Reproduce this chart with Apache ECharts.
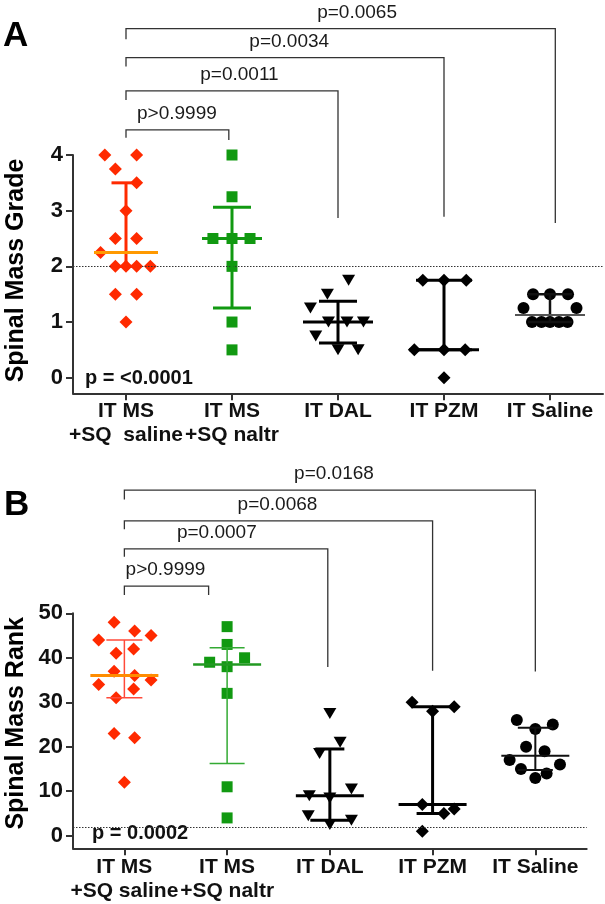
<!DOCTYPE html>
<html>
<head>
<meta charset="utf-8">
<script src="https://cdn.jsdelivr.net/npm/echarts@6/dist/echarts.min.js"></script>
<style>html,body{margin:0;padding:0;background:#fff;}#c{width:605px;height:904px;}</style>
</head>
<body>
<div id="c"></div>
<script>
// ---------------- Panel A: Spinal Mass Grade ----------------
const categoriesA = ['IT MS\n+SQ  saline', 'IT MS\n+SQ naltr', 'IT DAL', 'IT PZM', 'IT Saline'];
const gradeTicks = [0, 1, 2, 3, 4];
const gradeThreshold = 2;
const gradeMsSaline = [4, 4, 3.75, 3.5, 3, 2.5, 2.5, 2.25, 2, 2, 2, 2, 1.5, 1.5, 1];
const gradeMsSalineJitter = [-0.2, 0.1, -0.1, 0.1, 0, -0.1, 0.1, -0.24, -0.1, 0, 0.1, 0.23, -0.1, 0.1, 0];
const gradeMsNaltr = [4, 3.25, 2.5, 2.5, 2.5, 2, 1, 0.5];
const gradeMsNaltrJitter = [0, 0, -0.18, 0, 0.17, 0, 0, 0];
const gradeDal = [1.75, 1.5, 1.25, 1, 1, 1, 0.75, 0.5, 0.5];
const gradeDalJitter = [0.1, -0.1, -0.26, -0.09, 0.085, 0.24, -0.21, 0, 0.19];
const gradePzm = [1.75, 1.75, 1.75, 0.5, 0.5, 0.5, 0];
const gradePzmJitter = [-0.2, 0, 0.21, -0.28, 0, 0.2, 0];
const gradeItSaline = [1.5, 1.5, 1.5, 1.25, 1.25, 1, 1, 1, 1, 1];
const gradeItSalineJitter = [-0.16, 0, 0.17, -0.25, 0.25, -0.17, -0.08, 0, 0.085, 0.165];
const gradeMedian = [2.25, 2.5, 1.0, 0.5, 1.125];
const gradeQ1 = [2.0, 1.25, 0.625, 0.5, 1.0];
const gradeQ3 = [3.5, 3.0625, 1.375, 1.75, 1.5];
const gradeBracketLabels = ['p>0.9999', 'p=0.0011', 'p=0.0034', 'p=0.0065'];
const gradeBracketFrom = [0, 0, 0, 0];
const gradeBracketTo = [0.97, 2, 3, 4.05];
const gradeBracketTop = [4.45, 5.15, 5.75, 6.27];
const gradeBracketLeftEnd = [4.31, 4.99, 5.59, 6.08];
const gradeBracketRightEnd = [4.27, 2.87, 2.89, 2.78];
const gradeBracketLabelX = [0.48, 1.07, 1.54, 2.18];
const gradeOverallP = 'p = <0.0001';

// ---------------- Panel B: Spinal Mass Rank ----------------
const categoriesB = ['IT MS\n+SQ saline', 'IT MS\n+SQ naltr', 'IT DAL', 'IT PZM', 'IT Saline'];
const rankTicks = [0, 10, 20, 30, 40, 50];
const rankThreshold = 2;
const rankMsSaline = [48, 46, 45, 44, 41, 42, 37, 36, 34, 35, 33, 31, 23, 22, 12];
const rankMsSalineJitter = [-0.1, 0.1, 0.26, -0.25, -0.08, 0.09, -0.1, 0.1, -0.25, 0.26, 0.09, -0.08, -0.1, 0.1, 0];
const rankMsNaltr = [47, 43, 39, 40, 38, 32, 11, 4];
const rankMsNaltrJitter = [0, 0, -0.17, 0.17, 0, 0, 0, 0];
const rankDal = [27.5, 21, 18.5, 9, 8.5, 10.5, 4.5, 2.5, 3.5];
const rankDalJitter = [0, 0.1, -0.1, -0.2, 0, 0.21, -0.21, 0, 0.21];
const rankPzm = [30, 29, 28, 7, 5, 6, 1];
const rankPzmJitter = [-0.2, 0.21, 0, -0.1, 0.11, 0.21, -0.1];
const rankItSaline = [26, 24, 25, 20, 19, 17, 16, 15, 14, 13];
const rankItSalineJitter = [-0.18, 0, 0.17, -0.09, 0.09, -0.25, 0.24, -0.14, 0.11, 0];
const rankMedian = [36, 38.5, 9, 7, 18];
const rankQ1 = [31, 16.25, 3.5, 5, 14.75];
const rankQ3 = [44, 42.25, 19.5, 29, 24.25];
const rankBracketLabels = ['p>0.9999', 'p=0.0007', 'p=0.0068', 'p=0.0168'];
const rankBracketFrom = [0, 0, 0, 0];
const rankBracketTo = [0.82, 1.98, 3, 4];
const rankBracketTop = [56.1, 64.5, 70.8, 77.7];
const rankBracketLeftEnd = [54.1, 62.7, 68.9, 75.6];
const rankBracketRightEnd = [54.1, 37.9, 37.1, 36.9];
const rankBracketLabelX = [0.4, 0.9, 1.49, 2.04];
const rankOverallP = 'p = 0.0002';

// ---------------- styles ----------------
const FONT = '"Liberation Sans", Arial, Helvetica, sans-serif';
const RED = '#ff2a00', GREEN = '#119911', BLACK = '#000000';
const markerStyles = [
  { symbol: 'diamond', size: [13, 13], color: RED, rotate: 0 },
  { symbol: 'rect', size: [11, 11], color: GREEN, rotate: 0 },
  { symbol: 'triangle', size: [13, 11], color: BLACK, rotate: 180 },
  { symbol: 'diamond', size: [13, 13], color: BLACK, rotate: 0 },
  { symbol: 'circle', size: [12, 12], color: BLACK, rotate: 0 }
];
const barStylesA = [
  { bar: RED, med: '#ff9900', w: 3, medW: 3, cap: 14.5, capLo: 14.5, half: 32 },
  { bar: GREEN, med: GREEN, w: 3, medW: 3, cap: 19, capLo: 19, half: 30 },
  { bar: BLACK, med: BLACK, w: 3, medW: 3, cap: 19, capLo: 19, half: 35 },
  { bar: BLACK, med: BLACK, w: 3, medW: 3, cap: 28, capLo: 28, half: 35 },
  { bar: '#111', med: '#555', w: 2.5, medW: 2, cap: 22, capLo: 22, half: 35 }
];
const barStylesB = [
  { bar: '#ff4a3a', med: '#ff8c00', w: 1.5, medW: 3, cap: 18, capLo: 18, half: 34 },
  { bar: '#33aa33', med: '#229922', w: 1.5, medW: 2.5, cap: 17.5, capLo: 17.5, half: 34 },
  { bar: BLACK, med: BLACK, w: 3, medW: 3, cap: 14.5, capLo: 19.5, half: 34 },
  { bar: BLACK, med: BLACK, w: 3, medW: 3, cap: 21, capLo: 16, half: 34 },
  { bar: '#111', med: '#111', w: 2, medW: 2, cap: 17.5, capLo: 17.5, half: 34 }
];

const gradeGroups = [[gradeMsSaline, gradeMsSalineJitter], [gradeMsNaltr, gradeMsNaltrJitter], [gradeDal, gradeDalJitter], [gradePzm, gradePzmJitter], [gradeItSaline, gradeItSalineJitter]];
const rankGroups = [[rankMsSaline, rankMsSalineJitter], [rankMsNaltr, rankMsNaltrJitter], [rankDal, rankDalJitter], [rankPzm, rankPzmJitter], [rankItSaline, rankItSalineJitter]];

function scatterSeries(groups, axisIdx, threshold) {
  return groups.map(function (g, gi) {
    const ms = markerStyles[gi];
    const s = {
      type: 'scatter', xAxisIndex: axisIdx, yAxisIndex: axisIdx, z: 3,
      symbol: ms.symbol, symbolSize: ms.size, symbolRotate: ms.rotate,
      itemStyle: { color: ms.color, opacity: 1 },
      silent: true,
      data: g[0].map(function (v, i) { return [gi + g[1][i], v]; })
    };
    if (gi === 0) {
      s.markLine = {
        silent: true, symbol: 'none', animation: false,
        label: { show: false },
        lineStyle: { type: [1.5, 1.5], color: '#333', width: 1 },
        data: [{ yAxis: threshold }]
      };
    }
    return s;
  });
}

function errorSeries(median, q1, q3, styles, axisIdx) {
  return {
    type: 'custom', xAxisIndex: axisIdx, yAxisIndex: axisIdx, z: 5, silent: true, clip: false,
    data: median.map(function (m, i) { return [i, m, q1[i], q3[i]]; }),
    renderItem: function (params, api) {
      const st = styles[params.dataIndex];
      const x = api.value(0);
      const c = api.coord([x, api.value(1)]);
      const lo = api.coord([x, api.value(2)]);
      const hi = api.coord([x, api.value(3)]);
      const ls = function (color, w) { return { stroke: color, lineWidth: w }; };
      return {
        type: 'group',
        children: [
          { type: 'line', shape: { x1: lo[0], y1: lo[1], x2: hi[0], y2: hi[1] }, style: ls(st.bar, st.w) },
          { type: 'line', shape: { x1: hi[0] - st.cap, y1: hi[1], x2: hi[0] + st.cap, y2: hi[1] }, style: ls(st.bar, st.w) },
          { type: 'line', shape: { x1: lo[0] - st.capLo, y1: lo[1], x2: lo[0] + st.capLo, y2: lo[1] }, style: ls(st.bar, st.w) },
          { type: 'line', shape: { x1: c[0] - st.half, y1: c[1], x2: c[0] + st.half, y2: c[1] }, style: ls(st.med, st.medW) }
        ]
      };
    }
  };
}

function bracketSeries(labels, from, to, top, leftEnd, rightEnd, labelX, axisIdx) {
  return {
    type: 'custom', xAxisIndex: axisIdx, yAxisIndex: axisIdx, z: 2, silent: true, clip: false,
    data: labels.map(function (l, i) { return [from[i], to[i], top[i], leftEnd[i], rightEnd[i], labelX[i]]; }),
    renderItem: function (params, api) {
      const a = api.coord([api.value(0), api.value(3)]);
      const b = api.coord([api.value(0), api.value(2)]);
      const c = api.coord([api.value(1), api.value(2)]);
      const d = api.coord([api.value(1), api.value(4)]);
      const t = api.coord([api.value(5), api.value(2)]);
      return {
        type: 'group',
        children: [
          { type: 'polyline', shape: { points: [a, b, c, d] }, style: { stroke: '#333', lineWidth: 1.3, fill: null } },
          { type: 'text', x: t[0], y: t[1] - 16, style: { text: labels[params.dataIndex], font: '19px ' + FONT, fill: '#1a1a1a', align: 'center', verticalAlign: 'middle' } }
        ]
      };
    }
  };
}

function xAxisCfg(gridIdx, cats, margin) {
  return {
    gridIndex: gridIdx, type: 'value', min: -0.5, max: 4.5,
    splitLine: { show: false },
    axisLine: { show: true, onZero: false, lineStyle: { color: '#333', width: 2 } },
    axisTick: { show: true, customValues: [0, 1, 2, 3, 4], length: 7, lineStyle: { color: '#333', width: 2 } },
    axisLabel: {
      customValues: [0, 1, 2, 3, 4], margin: margin,
      formatter: function (v) { return cats[Math.round(v)]; },
      fontFamily: FONT, fontWeight: 'bold', fontSize: 21, lineHeight: 24, color: '#111'
    }
  };
}
function yAxisCfg(gridIdx, min, max, ticks) {
  return {
    gridIndex: gridIdx, type: 'value', min: min, max: max,
    splitLine: { show: false },
    axisLine: { show: true, onZero: false, lineStyle: { color: '#333', width: 2 } },
    axisTick: { show: true, customValues: ticks, length: 7, lineStyle: { color: '#333', width: 2 } },
    axisLabel: { customValues: ticks, margin: 10, fontFamily: FONT, fontWeight: 'bold', fontSize: 22, color: '#111' }
  };
}

const chart = echarts.init(document.getElementById('c'), null, { renderer: 'canvas' });
const option = {
  animation: false,
  backgroundColor: '#ffffff',
  grid: [
    { left: 73, right: 2, top: 155, height: 238.3, outerBoundsMode: 'none', containLabel: false },
    { left: 73, right: 18.3, top: 613.3, height: 235, outerBoundsMode: 'none', containLabel: false }
  ],
  xAxis: [xAxisCfg(0, categoriesA, 6), xAxisCfg(1, categoriesB, 7)],
  yAxis: [yAxisCfg(0, -0.28, 4, gradeTicks), yAxisCfg(1, -2.83, 50, rankTicks)],
  graphic: [
    { type: 'text', left: 3, top: 19, style: { text: 'A', font: 'bold 35px ' + FONT, fill: '#000' } },
    { type: 'text', left: 4, top: 488, style: { text: 'B', font: 'bold 35px ' + FONT, fill: '#000' } },
    { type: 'text', x: 16, y: 270.5, rotation: Math.PI / 2, style: { text: 'Spinal Mass Grade', font: 'bold 25px ' + FONT, fill: '#000', align: 'center', verticalAlign: 'middle' } },
    { type: 'text', x: 16, y: 723.3, rotation: Math.PI / 2, style: { text: 'Spinal Mass Rank', font: 'bold 25px ' + FONT, fill: '#000', align: 'center', verticalAlign: 'middle' } },
    { type: 'text', x: 85, y: 378, style: { text: gradeOverallP, font: 'bold 20px ' + FONT, fill: '#111', align: 'left', verticalAlign: 'middle' } },
    { type: 'text', x: 92, y: 833, style: { text: rankOverallP, font: 'bold 20px ' + FONT, fill: '#111', align: 'left', verticalAlign: 'middle' } }
  ],
  series: [].concat(
    scatterSeries(gradeGroups, 0, gradeThreshold),
    [errorSeries(gradeMedian, gradeQ1, gradeQ3, barStylesA, 0)],
    [bracketSeries(gradeBracketLabels, gradeBracketFrom, gradeBracketTo, gradeBracketTop, gradeBracketLeftEnd, gradeBracketRightEnd, gradeBracketLabelX, 0)],
    scatterSeries(rankGroups, 1, rankThreshold),
    [errorSeries(rankMedian, rankQ1, rankQ3, barStylesB, 1)],
    [bracketSeries(rankBracketLabels, rankBracketFrom, rankBracketTo, rankBracketTop, rankBracketLeftEnd, rankBracketRightEnd, rankBracketLabelX, 1)]
  )
};
chart.setOption(option);
</script>
</body>
</html>
